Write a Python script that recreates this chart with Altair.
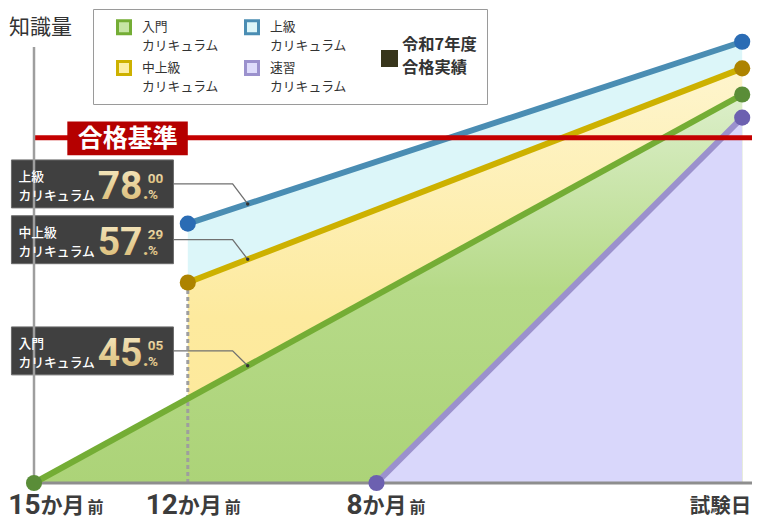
import altair as alt
import pandas as pd

# ---------------- data ----------------
curricula    = ["入門", "上級", "中上級", "速習"]
start_months = [15, 12, 12, 8]
start_levels = [0.0, 59.5, 46.0, 0.0]
exam_month   = 0
end_levels   = [89.1, 101.2, 95.1, 83.8]

pass_level = 79.2
pass_label = "合格基準"

callout_names = ["上級", "中上級", "入門"]
rate_int      = ["78", "57", "45"]
rate_dec      = ["00", "29", "05"]

tick_months  = [15, 12, 8]
tick_numbers = ["15", "12", "8"]
tick_unit    = "か月"
tick_suffix  = "前"
exam_label   = "試験日"
y_title      = "知識量"
suffix       = "カリキュラム"
note_label   = "令和7年度合格実績"
note_lines   = ["令和7年度", "合格実績"]

# ---------------- styles ----------------
JP = "Noto Sans CJK JP"
NUM = "Roboto"
TXT = "#3c3c3c"

legend_order = ["入門", "中上級", "上級", "速習"]   # column-major legend layout
line_col = {"入門": "#74ad35", "上級": "#4a8db3", "中上級": "#cdb100", "速習": "#9b91cd"}
dot_col  = {"入門": "#5a8d38", "上級": "#2b6cb4", "中上級": "#ad8300", "速習": "#6c60b0"}
sym_col  = {"入門": "#c6e5a5", "上級": "#ddf6f9", "中上級": "#fcefa8", "速習": "#dedcfb"}


def vgrad(stops):
    return {"gradient": "linear", "x1": 0, "y1": 0, "x2": 0, "y2": 1,
            "stops": [{"offset": o, "color": c} for o, c in stops]}


area_fill = {
    "上級": "#dcf6f9",
    "中上級": vgrad([(0, "#fef5cd"), (0.6, "#fdea9e"), (1, "#fde89a")]),
    "入門": vgrad([(0, "#dcefca"), (0.5, "#b6da88"), (1, "#acd378")]),
    "速習": "#d9d7fb",
}
area_order = ["上級", "中上級", "入門", "速習"]
gold = vgrad([(0, "#f7ebc6"), (1, "#d7b66c")])

# piecewise time scale (months before exam -> pixels)
XD = [15, 12, 8, 0]
XR = [0, 153.8, 342.5, 708.2]
W, H = 718, 436


def m2px(m):
    i = 0 if m >= 12 else (1 if m >= 8 else 2)
    return XR[i] + (m - XD[i]) * (XR[i + 1] - XR[i]) / (XD[i + 1] - XD[i])


def level_at(c, m):
    i = curricula.index(c)
    p0, p1 = m2px(start_months[i]), m2px(exam_month)
    f = (m2px(m) - p0) / (p1 - p0)
    return start_levels[i] + f * (end_levels[i] - start_levels[i])


rows = []
for c, sm, sl, el in zip(curricula, start_months, start_levels, end_levels):
    rows.append(dict(curriculum=c, month=sm, level=sl))
    rows.append(dict(curriculum=c, month=exam_month, level=el))
series = pd.DataFrame(rows)

XS = alt.Scale(domain=XD, range=XR, nice=False, zero=False)
YS = alt.Scale(domain=[0, 100], nice=False, zero=False)
YAX = alt.Axis(title=y_title, domain=False, ticks=False, labels=False, grid=False,
               titleAngle=0, titleX=6, titleY=-20, titleAlign="center",
               titleBaseline="middle", titleFont=JP, titleFontSize=21,
               titleFontWeight="normal", titleColor="#333333")


def xe(f):
    return alt.X(f"{f}:Q", scale=XS, axis=None)


def ye(f):
    return alt.Y(f"{f}:Q", scale=YS, axis=YAX, stack=None)


layers = []

# areas, back to front
for c in area_order:
    layers.append(
        alt.Chart(series).transform_filter(alt.datum.curriculum == c)
        .mark_area(fill=area_fill[c], opacity=1)
        .encode(x=xe("month"), y=ye("level"))
    )

# dashed guide at 12 months
i_mid = curricula.index("中上級")
layers.append(
    alt.Chart(pd.DataFrame({"month": [start_months[i_mid]], "level": [0.0],
                            "top": [start_levels[i_mid]]}))
    .mark_rule(strokeDash=[4, 3], strokeWidth=3, color="#9e9e9e")
    .encode(x=xe("month"), y=ye("level"), y2=alt.Y2("top"))
)

# baseline
layers.append(
    alt.Chart(pd.DataFrame({"level": [0.0]}))
    .mark_rule(color="#8e8e8e", strokeWidth=3)
    .encode(y=ye("level"))
)

# legend (fill + stroke merged on the same domain)
legA = alt.Legend(
    orient="none", legendX=59, legendY=-38, columns=2, columnPadding=12, rowPadding=2,
    padding=10, strokeColor="#9a9a9a", fillColor="#ffffff",
    symbolType="square", symbolSize=169, symbolStrokeWidth=3, symbolOffset=13,
    symbolOpacity=1,
    labelExpr="[datum.label, '%s']" % suffix, labelFont=JP, labelFontSize=12.8,
    labelColor="#333333", labelOffset=10, labelLimit=200,
    title=note_lines, titleOrient="right", titleAnchor="middle", titleBaseline="middle",
    titlePadding=55, titleFont=JP, titleFontSize=16.3, titleFontWeight="bold",
    titleColor="#333333", titleLineHeight=23,
)
stroke_enc = alt.Stroke("curriculum:N",
                        scale=alt.Scale(domain=legend_order,
                                        range=[line_col[c] for c in legend_order]),
                        legend=legA)
layers.append(
    alt.Chart(series).mark_square(opacity=0, size=169, strokeWidth=3)
    .encode(x=xe("month"), y=ye("level"), stroke=stroke_enc,
            fill=alt.Fill("curriculum:N",
                          scale=alt.Scale(domain=legend_order,
                                          range=[sym_col[c] for c in legend_order]),
                          legend=legA))
)

# series lines
layers.append(
    alt.Chart(series).mark_line(strokeWidth=6, strokeCap="butt")
    .encode(x=xe("month"), y=ye("level"), stroke=stroke_enc)
)

# pass line
layers.append(
    alt.Chart(pd.DataFrame({"level": [pass_level]}))
    .mark_rule(color="#c40000", strokeWidth=5)
    .encode(y=ye("level"))
)

# callouts
box_left, box_right, knee, target = 15.44, 12.28, 11.05, 10.73
centers = [68.6, 55.8, 30.3]
half = 5.5
call = pd.DataFrame({
    "name": callout_names,
    "label": [n + "\n" + suffix for n in callout_names],
    "int": rate_int, "dot": ["."] * 3, "dec": rate_dec, "pct": ["%"] * 3,
    "x1": [box_left] * 3, "x2": [box_right] * 3,
    "yc": centers, "y1": [c - half for c in centers], "y2": [c + half for c in centers],
    "note": [note_label] * 3,
})
lead_rows = []
for n, yc in zip(callout_names, centers):
    lead_rows += [dict(name=n, ord=0, month=box_right, level=yc),
                  dict(name=n, ord=1, month=knee, level=yc),
                  dict(name=n, ord=2, month=target, level=level_at(n, target))]
lead = pd.DataFrame(lead_rows)
layers.append(
    alt.Chart(lead).mark_line(color="#707070", strokeWidth=1.3)
    .encode(x=xe("month"), y=ye("level"), detail="name:N", order="ord:Q")
)
layers.append(
    alt.Chart(lead).transform_filter(alt.datum.ord == 2)
    .mark_circle(size=12, color="#333333", opacity=1)
    .encode(x=xe("month"), y=ye("level"))
)
layers.append(
    alt.Chart(call).mark_rect(color="#404040", stroke="#6b6b6b", strokeWidth=1)
    .encode(x=xe("x1"), x2=alt.X2("x2"), y=ye("y1"), y2=alt.Y2("y2"))
)
# legend entry for the results boxes (symbol only; its text is legend A's title)
legB = alt.Legend(
    orient="none", legendX=347, legendY=3, title=None, symbolSize=289,
    symbolStrokeWidth=0, symbolOpacity=1, labelExpr="''", padding=0,
)
layers.append(
    alt.Chart(call).mark_point(filled=True, opacity=0, size=289, color="#37351b")
    .encode(x=xe("x1"), y=ye("yc"),
            shape=alt.Shape("note:N", scale=alt.Scale(domain=[note_label], range=["square"]),
                            legend=legB))
)

# y axis line
layers.append(
    alt.Chart(pd.DataFrame({"month": [15], "level": [0.0], "top": [100.0]}))
    .mark_rule(color="#9e9e9e", strokeWidth=2.5)
    .encode(x=xe("month"), y=ye("level"), y2=alt.Y2("top"))
)

# end points
layers.append(
    alt.Chart(series).mark_circle(size=260, opacity=1)
    .encode(x=xe("month"), y=ye("level"),
            color=alt.Color("curriculum:N",
                            scale=alt.Scale(domain=curricula,
                                            range=[dot_col[c] for c in curricula]),
                            legend=None))
)

# pass label
layers.append(
    alt.Chart(pd.DataFrame({"x1": [14.35], "x2": [12.0], "y1": [75.2], "y2": [82.9]}))
    .mark_rect(color="#b50000")
    .encode(x=xe("x1"), x2=alt.X2("x2"), y=ye("y1"), y2=alt.Y2("y2"))
)
layers.append(
    alt.Chart(pd.DataFrame({"month": [14.35], "level": [pass_level], "t": [pass_label]}))
    .mark_text(align="center", baseline="middle", dx=60.5, dy=1, font=JP, fontSize=25,
               fontWeight="bold", color="#ffffff")
    .encode(x=xe("month"), y=ye("level"), text="t:N")
)

# callout texts
layers.append(
    alt.Chart(call).mark_text(align="left", baseline="middle", dx=7, dy=-7, lineBreak="\n",
                              lineHeight=19, font=JP, fontSize=12.8, fontWeight=500,
                              color="#ffffff")
    .encode(x=xe("x1"), y=ye("yc"), text="label:N")
)
layers.append(
    alt.Chart(call).mark_text(align="right", baseline="alphabetic", dx=-31, dy=15, font=NUM,
                              fontSize=39, fontWeight="bold", fill=gold)
    .encode(x=xe("x2"), y=ye("yc"), text="int:N")
)
layers.append(
    alt.Chart(call).mark_text(align="left", baseline="alphabetic", dx=-30.8, dy=15, font=NUM,
                              fontSize=20, fontWeight="bold", fill=gold)
    .encode(x=xe("x2"), y=ye("yc"), text="dot:N")
)
layers.append(
    alt.Chart(call).mark_text(align="left", baseline="alphabetic", dx=-25.7, dy=-1, font=NUM,
                              fontSize=13.5, fontWeight="bold", fill=gold)
    .encode(x=xe("x2"), y=ye("yc"), text="dec:N")
)
layers.append(
    alt.Chart(call).mark_text(align="left", baseline="alphabetic", dx=-25.5, dy=15, font=NUM,
                              fontSize=13.5, fontWeight="bold", fill=gold)
    .encode(x=xe("x2"), y=ye("yc"), text="pct:N")
)

# x tick labels
NUM_SIZE = 28
for m, num in zip(tick_months, tick_numbers):
    split = -10 if len(num) == 2 else -14
    num_w = 0.5625 * NUM_SIZE * len(num)
    left_page = 34 + m2px(m) + split - num_w
    if left_page < 9:
        split += 9 - left_page
    d = pd.DataFrame({"month": [m], "level": [0.0], "n": [num], "u": [tick_unit],
                      "s": [tick_suffix]})
    layers.append(alt.Chart(d).mark_text(align="right", baseline="alphabetic", dx=split, dy=31,
                                         font=NUM, fontSize=NUM_SIZE, fontWeight="bold",
                                         color=TXT)
                  .encode(x=xe("month"), y=ye("level"), text="n:N"))
    layers.append(alt.Chart(d).mark_text(align="left", baseline="alphabetic", dx=split,
                                         dy=29.5, font=JP, fontSize=22, fontWeight="bold",
                                         color=TXT)
                  .encode(x=xe("month"), y=ye("level"), text="u:N"))
    layers.append(alt.Chart(d).mark_text(align="left", baseline="alphabetic", dx=split + 47,
                                         dy=29.5, font=JP, fontSize=16, fontWeight="bold",
                                         color=TXT)
                  .encode(x=xe("month"), y=ye("level"), text="s:N"))
layers.append(
    alt.Chart(pd.DataFrame({"month": [exam_month], "level": [0.0], "t": [exam_label]}))
    .mark_text(align="right", baseline="alphabetic", dx=9, dy=29.5, font=JP, fontSize=20.5,
               fontWeight="bold", color=TXT)
    .encode(x=xe("month"), y=ye("level"), text="t:N")
)

# legend divider
layers.append(
    alt.Chart(pd.DataFrame({"a": [0]})).mark_rule(color="#333333", strokeWidth=1)
    .encode(x=alt.value(330), y=alt.value(-20), y2=alt.value(42))
)

chart = (
    alt.layer(*layers)
    .properties(width=W, height=H, background="#ffffff",
                padding={"left": 26, "top": 39, "right": 0, "bottom": 39},
                autosize=alt.AutoSizeParams(type="none"))
    .configure(style={"guide-label": {"lineHeight": 18.6}})
    .configure_view(stroke=None)
)

chart.save("out.html", embed_options={"renderer": "svg", "actions": False})
